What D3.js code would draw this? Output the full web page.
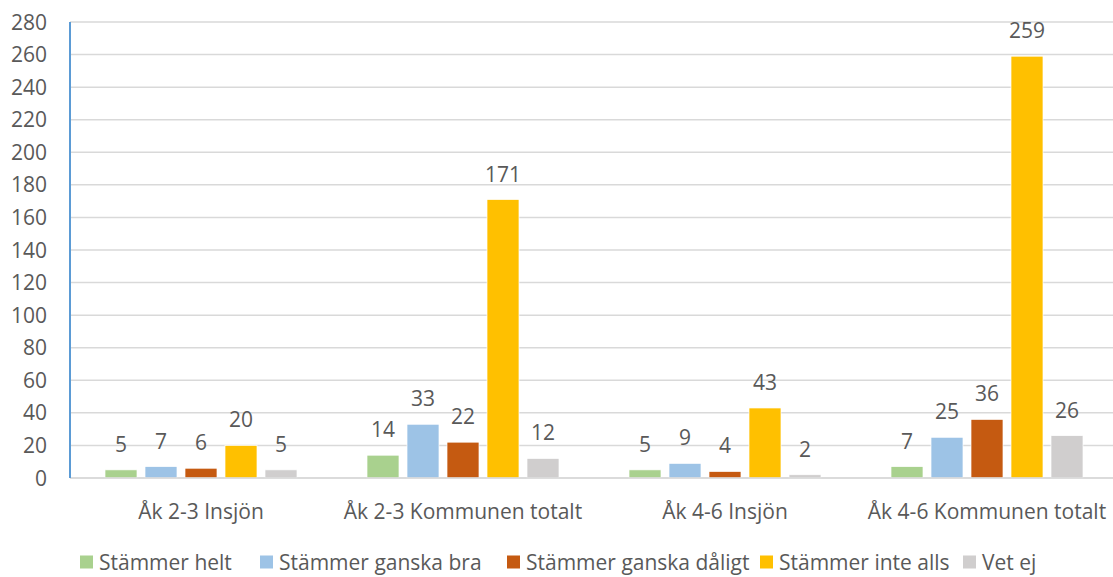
<!DOCTYPE html>
<html>
<head>
<meta charset="utf-8">
<script src="https://cdn.jsdelivr.net/npm/d3@7"></script>
<style>
  body { margin: 0; background: #fff; }
  text { font-family: "Open Sans", "Noto Sans", sans-serif; fill: #595959; }
</style>
</head>
<body>
<div id="chart"></div>
<script>
// data
var categories = ["Åk 2-3 Insjön", "Åk 2-3 Kommunen totalt", "Åk 4-6 Insjön", "Åk 4-6 Kommunen totalt"]
var seriesNames = ["Stämmer helt", "Stämmer ganska bra", "Stämmer ganska dåligt", "Stämmer inte alls", "Vet ej"]
var stammerHelt = [5, 14, 5, 7]
var stammerGanskaBra = [7, 33, 9, 25]
var stammerGanskaDaligt = [6, 22, 4, 36]
var stammerInteAlls = [20, 171, 43, 259]
var vetEj = [5, 12, 2, 26]
var yTicks = [0, 20, 40, 60, 80, 100, 120, 140, 160, 180, 200, 220, 240, 260, 280]

var seriesValues = [stammerHelt, stammerGanskaBra, stammerGanskaDaligt, stammerInteAlls, vetEj]
var colors = ["#A9D18E", "#9DC3E6", "#C55A11", "#FFC000", "#D0CECE"]

var width = 1113, height = 577
var margin = { left: 70, right: -5, top: 22, bottom: 99 }
var fontSize = "21px"

var svg = d3.select("#chart").append("svg")
    .attr("width", width)
    .attr("height", height)

var x0 = d3.scaleBand()
    .domain(categories)
    .range([margin.left, width - margin.right])

// bars inside one category
var groupWidth = 200
var x1 = d3.scaleBand()
    .domain(seriesNames)
    .range([0, groupWidth])
    .paddingInner(0.2)
    .paddingOuter(0.1)

var y = d3.scaleLinear()
    .domain([0, 280])
    .range([height - margin.bottom, margin.top])

// gridlines
svg.append("g")
    .selectAll("line")
    .data(yTicks)
    .enter()
    .append("line")
    .attr("x1", margin.left)
    .attr("x2", width)
    .attr("y1", function (d) { return y(d) })
    .attr("y2", function (d) { return y(d) })
    .attr("stroke", "#D9D9D9")
    .attr("stroke-width", 1.5)

// y tick labels
svg.append("g")
    .selectAll("text")
    .data(yTicks)
    .enter()
    .append("text")
    .attr("x", 47)
    .attr("y", function (d) { return y(d) })
    .attr("dy", "0.36em")
    .attr("text-anchor", "end")
    .style("font-size", fontSize)
    .text(function (d) { return d })

// bars
var groups = svg.append("g")
    .selectAll("g")
    .data(categories)
    .enter()
    .append("g")
    .attr("transform", function (d) {
        return "translate(" + (x0(d) + (x0.bandwidth() - groupWidth) / 2) + ",0)"
    })

groups.each(function (cat, ci) {
    var g = d3.select(this)
    seriesNames.forEach(function (name, si) {
        var v = seriesValues[si][ci]
        g.append("rect")
            .attr("x", x1(name))
            .attr("y", y(v))
            .attr("width", x1.bandwidth())
            .attr("height", y(0) - y(v))
            .attr("fill", colors[si])
            .attr("stroke", "#fff")
            .attr("stroke-width", 0.7)
        g.append("text")
            .attr("x", x1(name) + x1.bandwidth() / 2)
            .attr("y", y(v) - 18)
            .attr("text-anchor", "middle")
            .style("font-size", fontSize)
            .text(v)
    })
})

// x axis line
svg.append("line")
    .attr("x1", margin.left)
    .attr("x2", width)
    .attr("y1", y(0))
    .attr("y2", y(0))
    .attr("stroke", "#D9D9D9")
    .attr("stroke-width", 1.5)

// y axis line
svg.append("line")
    .attr("x1", margin.left)
    .attr("x2", margin.left)
    .attr("y1", y(280))
    .attr("y2", y(0))
    .attr("stroke", "#5B9BD5")
    .attr("stroke-width", 2)

// category labels
svg.append("g")
    .selectAll("text")
    .data(categories)
    .enter()
    .append("text")
    .attr("x", function (d) { return x0(d) + x0.bandwidth() / 2 })
    .attr("y", 511)
    .attr("dy", "0.36em")
    .attr("text-anchor", "middle")
    .style("font-size", fontSize)
    .text(function (d) { return d })

// legend
var legendX = [80, 260, 507, 760, 963]
var legend = svg.append("g")
    .selectAll("g")
    .data(seriesNames)
    .enter()
    .append("g")
    .attr("transform", function (d, i) { return "translate(" + legendX[i] + ",562)" })

legend.append("rect")
    .attr("x", 0)
    .attr("y", -6.5)
    .attr("width", 13)
    .attr("height", 13)
    .attr("fill", function (d, i) { return colors[i] })

legend.append("text")
    .attr("x", 19)
    .attr("y", 0)
    .attr("dy", "0.36em")
    .style("font-size", fontSize)
    .text(function (d) { return d })
</script>
</body>
</html>
